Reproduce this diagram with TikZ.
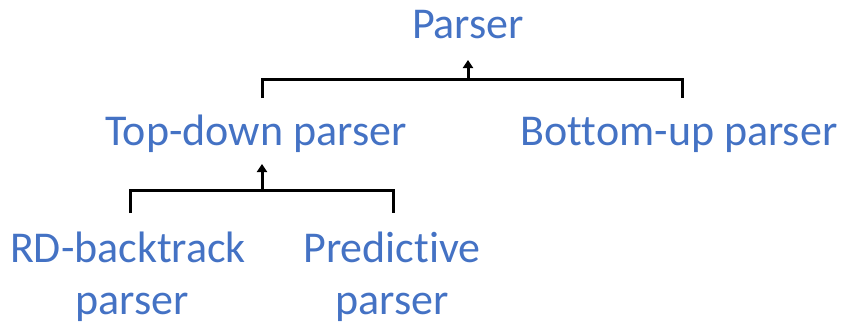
\documentclass[tikz,border=0pt]{standalone}
\usepackage{fontspec}
\setmainfont{Carlito}[Ligatures=NoCommon]
\usetikzlibrary{arrows.meta}
\definecolor{officeblue}{HTML}{4472C4}
\tikzset{
  label text/.style={text=officeblue, inner sep=0pt, anchor=base,
    font=\fontsize{44}{52}\selectfont},
  bracket/.style={draw=black, line width=3pt, line cap=butt, line join=miter},
  uparrow/.style={draw=black, line width=3pt,
    -{Triangle[width=10pt,length=8pt]}}
}
\begin{document}
\begin{tikzpicture}[x=1pt,y=-1pt]
  \useasboundingbox (0,0) rectangle (844,322);

  % tree labels
  \node[label text] (parser) at (468,38)  {Parser};
  \node[label text] (td)     at (256,145) {Top-down parser};
  \node[label text] (bu)     at (679,145) {Bottom-up parser};
  \node[label text] (rd)     at (128,262) {RD-backtrack};
  \node[label text] (rdb)    at (132,314) {parser};
  \node[label text] (pr)     at (392,262) {Predictive};
  \node[label text] (prb)    at (392,314) {parser};

  % bracket ends and junctions
  \coordinate (tdtop)  at (262,98);
  \coordinate (butop)  at (682,98);
  \coordinate (j1)     at (468,79);
  \coordinate (ptip)   at (468,60);
  \coordinate (rdtop)  at (130,213);
  \coordinate (prtop)  at (393,213);
  \coordinate (j2)     at (262,190);
  \coordinate (tdtip)  at (262,164);

  % Parser -> Top-down / Bottom-up
  \draw[bracket] (tdtop) |- (j1) -| (butop);
  \draw[uparrow] (j1) -- (ptip);

  % Top-down -> RD-backtrack / Predictive
  \draw[bracket] (rdtop) |- (j2) -| (prtop);
  \draw[uparrow] (j2) -- (tdtip);
\end{tikzpicture}
\end{document}
